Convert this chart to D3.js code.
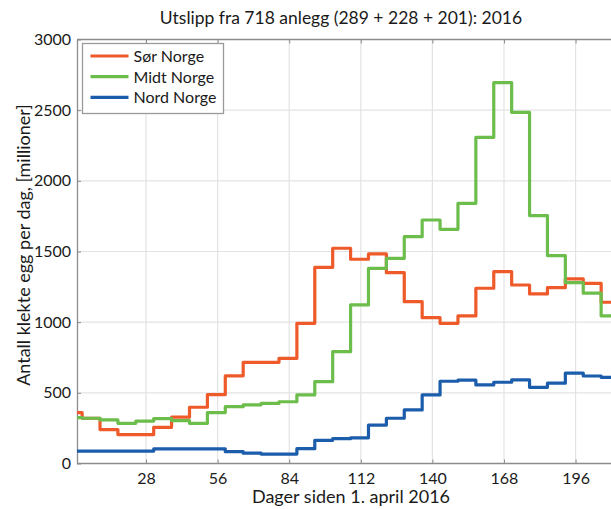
<!DOCTYPE html>
<html>
<head>
<meta charset="utf-8">
<script src="https://cdn.jsdelivr.net/npm/d3@7/dist/d3.min.js"></script>
<style>
  html, body { margin: 0; padding: 0; background: #fff; }
  svg text { font-family: Lato, "Open Sans", sans-serif; fill: #1a1a1a; }
</style>
</head>
<body>
<svg id="chart" width="611" height="509"></svg>
<script>
// Start day of each weekly release period (days since 1 April 2016)
const weekStart = [1, 3, 10, 17, 24, 31, 38, 45, 52, 59, 66, 73, 80, 87, 94, 101,
  108, 115, 122, 129, 136, 143, 150, 157, 164, 171, 178, 185, 192, 199, 206];
const lastDay = 214;

// Hatched eggs per day, millions
const sorNorge = [360, 320, 240, 205, 205, 256, 328, 398, 488, 620, 716, 716, 744, 992,
  1388, 1523, 1445, 1483, 1350, 1145, 1032, 992, 1044, 1240, 1357, 1263, 1200, 1244,
  1306, 1275, 1141];
const midtNorge = [325, 320, 308, 284, 300, 318, 304, 284, 360, 402, 415, 425, 437, 485,
  579, 791, 1122, 1381, 1452, 1605, 1723, 1657, 1841, 2308, 2695, 2485, 1754, 1471,
  1280, 1205, 1044];
const nordNorge = [88, 88, 88, 88, 88, 103, 103, 103, 103, 84, 73, 67, 67, 105,
  164, 176, 182, 272, 320, 379, 485, 582, 590, 556, 575, 591, 539, 568,
  640, 619, 610];

const seriesNames = ["Sør Norge", "Midt Norge", "Nord Norge"];
const seriesColors = ["#ee5a2a", "#6cbd4b", "#1b5cab"];
const seriesValues = [sorNorge, midtNorge, nordNorge];

const xTicks = [28, 56, 84, 112, 140, 168, 196];
const yTicks = [0, 500, 1000, 1500, 2000, 2500, 3000];

const titleText = "Utslipp fra 718 anlegg (289 + 228 + 201): 2016";
const xLabel = "Dager siden 1. april 2016";
const yLabel = "Antall klekte egg per dag, [millioner]";

const W = 611, H = 509;
const plot = { left: 77, right: 621.6, top: 39.5, bottom: 463.5 };

const svg = d3.select("#chart");

const x = d3.scaleLinear().domain([1, lastDay]).range([plot.left, plot.right]);
const y = d3.scaleLinear().domain([0, 3000]).range([plot.bottom, plot.top]);

svg.append("defs").append("clipPath").attr("id", "plotclip")
  .append("rect")
  .attr("x", plot.left).attr("y", plot.top - 3)
  .attr("width", plot.right - plot.left).attr("height", plot.bottom - plot.top + 6);

// Grid
const grid = svg.append("g");
grid.selectAll("line.gx").data(xTicks).join("line")
  .attr("x1", d => x(d)).attr("x2", d => x(d))
  .attr("y1", plot.top).attr("y2", plot.bottom)
  .attr("stroke", "#e3e3e3").attr("stroke-width", 1.2);
grid.selectAll("line.gy").data(yTicks.slice(1, -1)).join("line")
  .attr("x1", plot.left).attr("x2", W)
  .attr("y1", d => y(d)).attr("y2", d => y(d))
  .attr("stroke", "#e3e3e3").attr("stroke-width", 1.2);

// Axes with inward ticks
const axisColor = "#8c8c8c";
const xAxis = svg.append("g").attr("transform", `translate(0,${plot.bottom})`)
  .call(d3.axisBottom(x).tickValues(xTicks).tickFormat(d3.format("d"))
    .tickSizeInner(-4).tickSizeOuter(0).tickPadding(9));
const xAxisTop = svg.append("g").attr("transform", `translate(0,${plot.top})`)
  .call(d3.axisTop(x).tickValues(xTicks).tickSizeInner(-4).tickSizeOuter(0).tickFormat(""));
const yAxis = svg.append("g").attr("transform", `translate(${plot.left},0)`)
  .call(d3.axisLeft(y).tickValues(yTicks).tickFormat(d3.format("d"))
    .tickSizeInner(-4).tickSizeOuter(0).tickPadding(6));

[xAxis, xAxisTop, yAxis].forEach(g => {
  g.select(".domain").attr("stroke", axisColor).attr("stroke-width", 1.3);
  g.selectAll(".tick line").attr("stroke", axisColor);
  g.selectAll(".tick text")
    .style("font-family", "Lato, 'Open Sans', sans-serif").attr("fill", "#1a1a1a");
});
xAxis.selectAll(".tick text").style("font-size", "16px");
yAxis.selectAll(".tick text").style("font-size", "16px");
xAxis.select(".domain").attr("d", `M${plot.left},0H${W}`);
xAxisTop.select(".domain").attr("d", `M${plot.left},0H${W}`);

// Step lines
const line = d3.line()
  .x(d => x(d.day))
  .y(d => y(d.value))
  .curve(d3.curveStepAfter);

const lines = svg.append("g").attr("clip-path", "url(#plotclip)");
seriesValues.forEach((vals, i) => {
  const pts = weekStart.map((d, k) => ({ day: d, value: vals[k] }));
  pts.push({ day: lastDay, value: vals[vals.length - 1] });
  lines.append("path")
    .datum(pts)
    .attr("fill", "none")
    .attr("stroke", seriesColors[i])
    .attr("stroke-width", 3.2)
    .attr("stroke-linejoin", "round")
    .attr("d", line);
});

// Legend
const lg = svg.append("g").attr("transform", "translate(82.5,43.5)");
lg.append("rect").attr("width", 141).attr("height", 70)
  .attr("fill", "#fff").attr("stroke", "#9a9a9a").attr("stroke-width", 1.3);
seriesNames.forEach((name, i) => {
  const row = lg.append("g").attr("transform", `translate(0,${12.5 + i * 20.7})`);
  row.append("line").attr("x1", 8).attr("x2", 46).attr("y1", 0).attr("y2", 0)
    .attr("stroke", seriesColors[i]).attr("stroke-width", 3.2);
  row.append("text").attr("x", 51).attr("y", 5.8)
    .style("font-size", "16px").text(name);
});

// Title and axis labels
svg.append("text").attr("x", 341).attr("y", 24).attr("text-anchor", "middle")
  .style("font-size", "17.5px").text(titleText);
svg.append("text").attr("x", 351).attr("y", 503).attr("text-anchor", "middle")
  .style("font-size", "18px").text(xLabel);
svg.append("text")
  .attr("transform", `translate(30,${245}) rotate(-90)`)
  .attr("text-anchor", "middle")
  .style("font-size", "18px").text(yLabel);
</script>
</body>
</html>
